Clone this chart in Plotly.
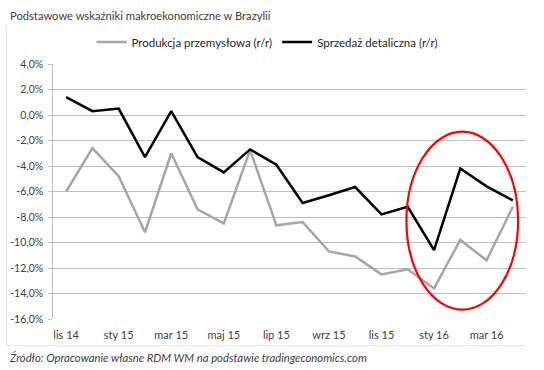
import plotly.graph_objects as go

months = ["lis 14", "gru 14", "sty 15", "lut 15", "mar 15", "kwi 15", "maj 15", "cze 15",
          "lip 15", "sie 15", "wrz 15", "paź 15", "lis 15", "gru 15", "sty 16", "lut 16",
          "mar 16", "kwi 16"]
produkcja = [-6.0, -2.6, -4.8, -9.2, -3.0, -7.4, -8.5, -2.75, -8.65, -8.4, -10.7, -11.1,
             -12.5, -12.1, -13.6, -9.8, -11.4, -7.2]
sprzedaz = [1.4, 0.3, 0.5, -3.3, 0.3, -3.3, -4.5, -2.7, -3.9, -6.9, -6.3, -5.65,
            -7.8, -7.2, -10.6, -4.2, -5.6, -6.7]
tick_months = months[::2]
yticks = list(range(-16, 5, 2))
ytick_labels = [f"{v:.1f}%".replace(".", ",") + "\u00a0" for v in yticks]

W, H = 544, 370
L, R, T, B = 53, 18, 64, 51
pw, ph = W - L - R, H - T - B
def px(x):
    return (x - L) / pw
def py(y):
    return (H - B - y) / ph

fig = go.Figure()
fig.add_trace(go.Scatter(x=months, y=produkcja, mode="lines", name="Produkcja przemysłowa (r/r)",
                         line=dict(color="#a6a6a6", width=2.5)))
fig.add_trace(go.Scatter(x=months, y=sprzedaz, mode="lines", name="Sprzedaż detaliczna (r/r)",
                         line=dict(color="#000000", width=2.5)))

fig.update_layout(
    width=W, height=H,
    margin=dict(l=L, r=R, t=T, b=B, autoexpand=False),
    paper_bgcolor="white", plot_bgcolor="white",
    font=dict(family="Lato, Carlito, Open Sans, sans-serif", size=11, color="#404040"),
    showlegend=True,
    legend=dict(orientation="h", x=px(267), xanchor="center", y=py(42), yanchor="middle",
                font=dict(size=11.5, color="#262626"), itemwidth=30, tracegroupgap=0,
                bgcolor="rgba(0,0,0,0)"),
    xaxis=dict(type="category", categoryorder="array", categoryarray=months,
               tickmode="array", tickvals=tick_months, ticktext=tick_months,
               showgrid=False, showline=False, ticks="outside", ticklen=6,
               tickcolor="rgba(0,0,0,0)", zeroline=False,
               tickfont=dict(size=11, color="#404040"), range=[-0.5, len(months) - 0.5]),
    yaxis=dict(range=[-16, 4], tickmode="array", tickvals=yticks, ticktext=ytick_labels,
               showgrid=True, gridcolor="#bfbfbf", gridwidth=1,
               showline=True, linecolor="#bfbfbf", linewidth=1,
               ticks="outside", ticklen=4, tickcolor="#bfbfbf",
               zeroline=False, tickfont=dict(size=10.5, color="#404040")),
)

fig.add_annotation(text="Podstawowe wskaźniki makroekonomiczne w Brazylii", xref="paper", yref="paper",
                   x=px(8), y=py(15), xanchor="left", yanchor="middle", showarrow=False,
                   font=dict(size=11.2, color="#404040"))
fig.add_annotation(text="<i>Źródło: Opracowanie własne RDM WM na podstawie tradingeconomics.com</i>",
                   xref="paper", yref="paper", x=px(7), y=py(357), xanchor="left", yanchor="middle",
                   showarrow=False, font=dict(size=11.3, color="#404040"))

# chart frame (left and bottom)
fig.add_shape(type="line", xref="paper", yref="paper", x0=px(6.5), x1=px(6.5), y0=py(25), y1=py(345.5),
              line=dict(color="#e6e6e6", width=1))
fig.add_shape(type="line", xref="paper", yref="paper", x0=px(6.5), x1=px(526), y0=py(345.5), y1=py(345.5),
              line=dict(color="#e6e6e6", width=1))

# red ellipse highlight
fig.add_shape(type="circle", xref="x", yref="y", x0=12.95, x1=17.2, y0=-15.27, y1=-1.31,
              line=dict(color="#ff0000", width=2.2))

fig.write_html("out.html", config={"displayModeBar": False},
               post_script="document.body.style.margin='0';document.body.style.padding='0';")
